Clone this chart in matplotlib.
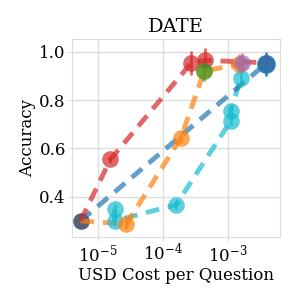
import matplotlib
matplotlib.use('Agg')
import matplotlib.pyplot as plt
import numpy as np

# cost (USD per question) and accuracy for each method
gray_x = [5.4e-6]
gray_y = [0.30]
blue_x = [5.4e-6, 3.8e-3]
blue_y = [0.30, 0.95]
red_x = [5.4e-6, 1.56e-5, 2.7e-4, 4.5e-4, 3.8e-3]
red_y = [0.30, 0.555, 0.953, 0.965, 0.955]
red_err = [0.0, 0.015, 0.05, 0.05, 0.03]
orange_x = [5.4e-6, 2.75e-5, 1.9e-4, 4.3e-4, 1.5e-3]
orange_y = [0.30, 0.287, 0.645, 0.92, 0.95]
orange_err = [0.0, 0.02, 0.02, 0.03, 0.04]
green_x = [4.3e-4]
green_y = [0.92]
purple_x = [1.65e-3]
purple_y = [0.956]
cyan_x = [1.8e-5, 1.8e-5, 1.6e-4, 1.1e-3, 1.1e-3, 1.6e-3]
cyan_y = [0.35, 0.30, 0.367, 0.713, 0.757, 0.894]
cyan_err = [0.02, 0.02, 0.02, 0.02, 0.02, 0.03]

plt.rcParams['font.family'] = 'DejaVu Serif'
plt.rcParams['mathtext.fontset'] = 'dejavuserif'

fig, ax = plt.subplots(figsize=(2.99, 2.99), dpi=100)
fig.subplots_adjust(left=0.241, right=0.936, top=0.870, bottom=0.207)

ax.plot(gray_x, gray_y, 'o', ms=12, mew=0, color='#4c5a6c', alpha=0.95)

series = [
    (cyan_x, cyan_y, cyan_err, 'tab:cyan'),
    (blue_x, blue_y, None, 'tab:blue'),
    (orange_x, orange_y, orange_err, 'tab:orange'),
    (red_x, red_y, red_err, 'tab:red'),
    (green_x, green_y, [0.04], 'tab:green'),
    (purple_x, purple_y, [0.04], 'tab:purple'),
]
for x, y, err, c in series:
    ax.plot(x, y, ls='--', lw=3.5, color=c, alpha=0.7, dashes=(2.8, 1.8))
    # skip the shared starting point, it is drawn in gray
    if x[0] == gray_x[0]:
        x, y = x[1:], y[1:]
        if err is not None:
            err = err[1:]
    ax.errorbar(x, y, yerr=err, fmt='o', ms=12, mew=0, color=c, alpha=0.7,
                capsize=4, elinewidth=2, capthick=2)
# blue end point drawn again on top
ax.errorbar(blue_x[-1:], blue_y[-1:], yerr=[0.05], fmt='o', ms=13.5, mew=0, color='tab:blue',
            alpha=0.85, capsize=4.5, elinewidth=2, capthick=2)

ax.set_xscale('log')
ax.set_xlim(4.0e-6, 6.3e-3)
ax.set_ylim(0.233, 1.054)
ax.set_xticks([1e-5, 1e-4, 1e-3])
ax.set_yticks([0.4, 0.6, 0.8, 1.0])
ax.minorticks_off()
ax.grid(True, color='#dddddd', lw=1)
ax.set_axisbelow(True)
for s in ax.spines.values():
    s.set_color('#dddddd')
ax.tick_params(axis='both', labelsize=12, length=3, color='#dddddd', pad=1.5)
ax.set_title('DATE', fontsize=14, pad=5)
ax.set_xlabel('USD Cost per Question', fontsize=12, labelpad=1)
ax.set_ylabel('Accuracy', fontsize=12, labelpad=2)

plt.savefig('out.png', dpi=100)
